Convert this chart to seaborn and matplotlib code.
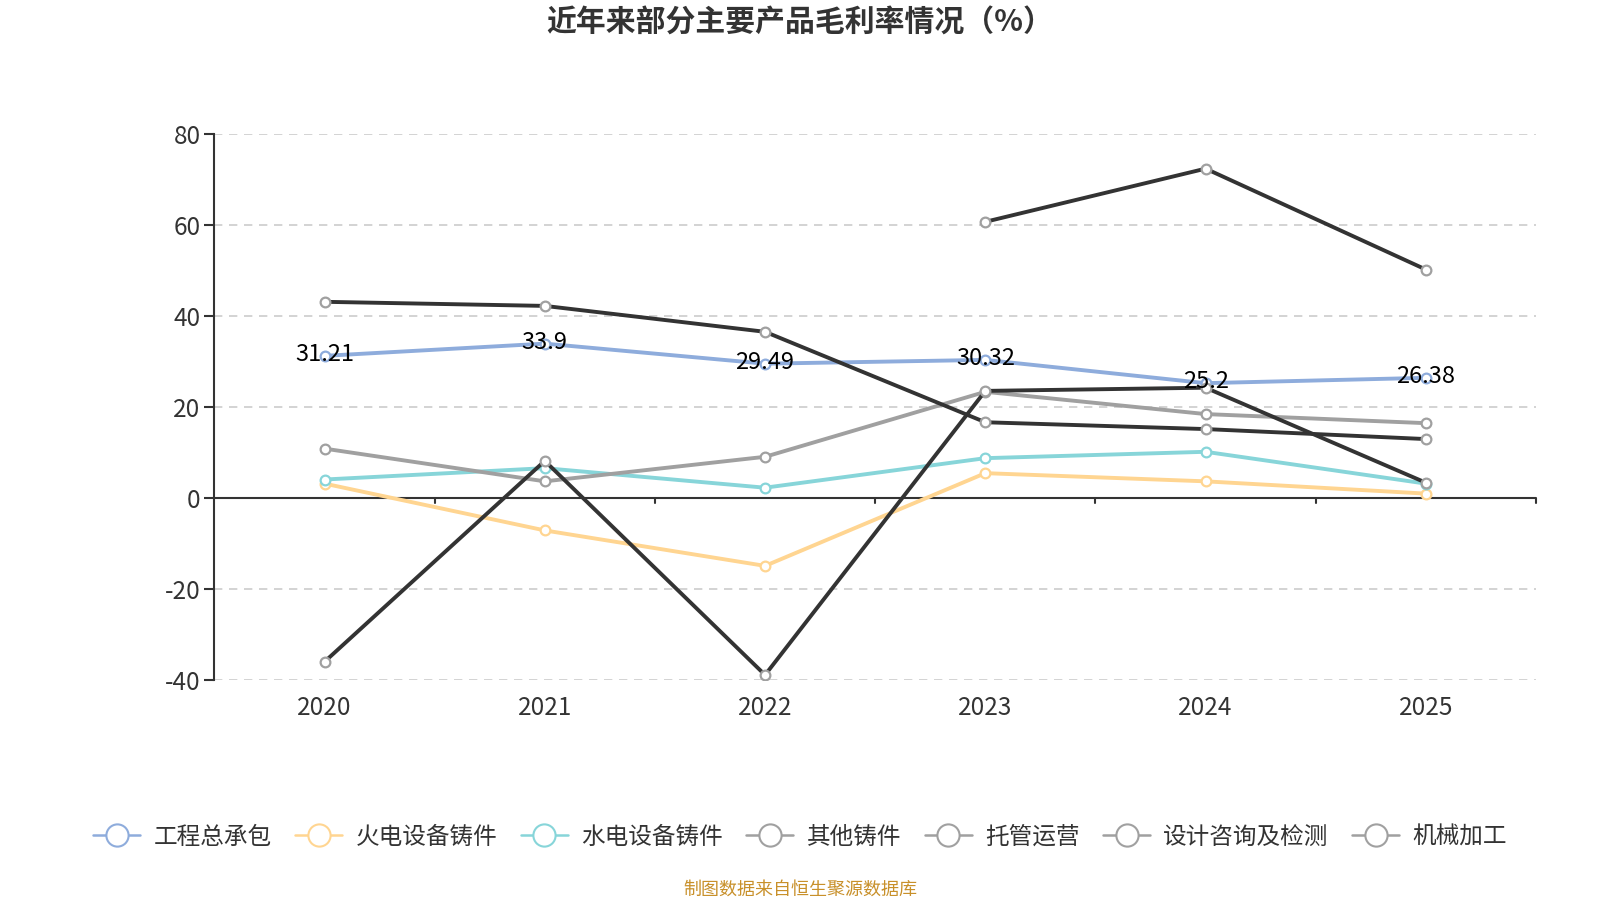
import numpy as np
import pandas as pd
import matplotlib
matplotlib.use('Agg')
import matplotlib.pyplot as plt
from matplotlib.lines import Line2D
import seaborn as sns

# data
years = ['2020', '2021', '2022', '2023', '2024', '2025']
gczcb = [31.21, 33.9, 29.49, 30.32, 25.2, 26.38]      # 工程总承包
hdsb = [3.1, -7.2, -15.0, 5.4, 3.6, 0.9]               # 火电设备铸件
sdsb = [4.0, 6.5, 2.2, 8.7, 10.1, 3.1]                 # 水电设备铸件
qtzj = [10.8, 3.6, 9.0, 23.3, 18.4, 16.4]              # 其他铸件
tgyy = [43.1, 42.2, 36.5, 16.6, 15.1, 12.9]            # 托管运营
sjzx = [-36.1, 8.1, -39.0, 23.5, 24.2, 3.3]            # 设计咨询及检测
jxjg = [np.nan, np.nan, np.nan, 60.7, 72.4, 50.2]      # 机械加工

names = ['工程总承包', '火电设备铸件', '水电设备铸件', '其他铸件', '托管运营', '设计咨询及检测', '机械加工']
series = [gczcb, hdsb, sdsb, qtzj, tgyy, sjzx, jxjg]
line_colors = ['#8eacdc', '#ffd591', '#87d5d9', '#a0a0a0', '#333333', '#333333', '#333333']
edge_colors = ['#8eacdc', '#ffd591', '#87d5d9', '#a0a0a0', '#a0a0a0', '#a0a0a0', '#a0a0a0']

sns.set_theme(style='white')
plt.rcParams['font.family'] = ['Noto Sans CJK SC', 'DejaVu Sans']
plt.rcParams['axes.unicode_minus'] = False

fig = plt.figure(figsize=(16, 9), dpi=100)
ax = fig.add_axes([0.134, 0.245, 0.826, 0.606])

xpos = np.arange(len(years))
for name, vals, lc, ec in zip(names, series, line_colors, edge_colors):
    df = pd.DataFrame({'x': xpos, 'y': vals}).dropna()
    sns.lineplot(data=df, x='x', y='y', ax=ax, color=lc, linewidth=2.8,
                 marker='o', markersize=7, markerfacecolor='white',
                 markeredgecolor=ec, markeredgewidth=1.6, zorder=3)

# labels on 工程总承包
for x, v in zip(xpos, gczcb):
    ax.text(x, v + 0.3, f'{v:g}', ha='center', va='center', fontsize=17,
            color='black', zorder=5)

ax.set_xlim(-0.5, 5.5)
ax.set_ylim(-40, 80)
ax.set_yticks([-40, -20, 0, 20, 40, 60, 80])
ax.set_xticks(xpos)
ax.set_xticklabels(years)
ax.set_xlabel('')
ax.set_ylabel('')

for yv in [-40, -20, 20, 40, 60, 80]:
    ax.axhline(yv, color='#cccccc', linestyle=(0, (5, 4)), linewidth=1.2, zorder=1)
ax.axhline(0, color='#333333', linewidth=1.5, zorder=2)

for s in ['top', 'right', 'bottom']:
    ax.spines[s].set_visible(False)
ax.spines['left'].set_color('#333333')
ax.spines['left'].set_linewidth(1.5)

ax.tick_params(axis='y', which='major', left=True, length=7, width=1.5, color='#333333',
               labelsize=17.5, labelcolor='#333333', pad=3)
ax.tick_params(axis='x', which='major', bottom=False, labelsize=17.5, labelcolor='#333333', pad=5)
# category boundary ticks on the zero line
for b in np.arange(0.5, 6.0, 1.0):
    ax.plot([b, b], [0, -1.2], color='#333333', linewidth=1.5, clip_on=False, zorder=2)

fig.text(0.5, 0.975, '近年来部分主要产品毛利率情况（%）', ha='center', va='center', fontsize=21.5,
         fontweight='bold', color='#333333')

handles = [Line2D([0], [0], color=ec, linewidth=1.8, marker='o', markersize=16,
                  markerfacecolor='white', markeredgecolor=ec, markeredgewidth=1.5)
           for ec in edge_colors]
fig.legend(handles, names, loc='center', bbox_to_anchor=(0.5, 0.07), ncol=7, frameon=False,
           fontsize=17, labelcolor='#333333', handlelength=2.0, columnspacing=1.0,
           handletextpad=0.55)

fig.text(0.5, 0.012, '制图数据来自恒生聚源数据库', ha='center', va='center', fontsize=13,
         color='#c8902a')

fig.savefig('out.png', dpi=100)
